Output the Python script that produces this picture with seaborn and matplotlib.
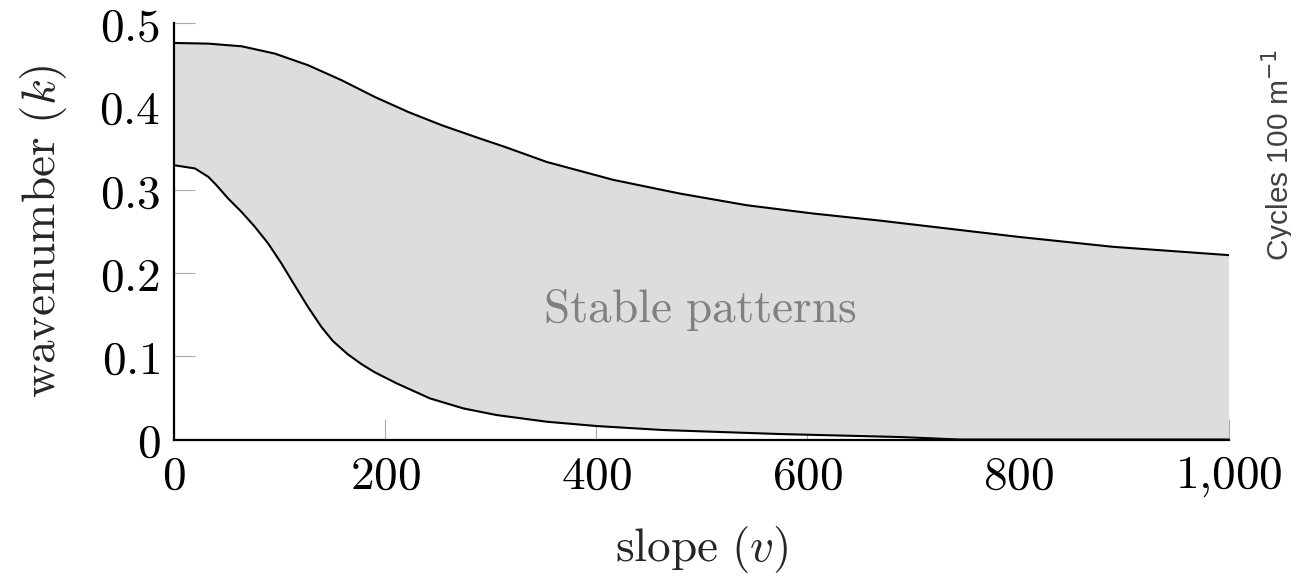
import numpy as np
import pandas as pd
import matplotlib
matplotlib.use("Agg")
import matplotlib.pyplot as plt
import seaborn as sns

# ---- data ----
upper_v = [0, 32.2, 63.9, 95.4, 127, 158.7, 190.2, 221.8, 253.5, 289.8, 313.5, 353,
           416, 479.3, 542.6, 605.7, 669, 800, 890, 1000]
upper_k = [0.4764, 0.4756, 0.4724, 0.4636, 0.4496, 0.4316, 0.4115, 0.3935, 0.3776,
           0.3616, 0.3515, 0.3335, 0.3120, 0.2955, 0.2815, 0.2715, 0.2630, 0.2435,
           0.2315, 0.2215]

lower_v = [0, 19.7, 32.3, 40, 51, 63.7, 76.4, 89, 101.6, 114, 126.7, 139.4, 150.3,
           164.5, 177, 189.7, 210.8, 242.4, 274, 305.6, 353, 400.4, 463.5, 574, 688,
           745, 1000]
lower_k = [0.3295, 0.3256, 0.3155, 0.3055, 0.2896, 0.2735, 0.2555, 0.2355, 0.2115,
           0.1855, 0.1594, 0.1354, 0.1184, 0.1024, 0.0910, 0.0810, 0.0675, 0.0494,
           0.0374, 0.0294, 0.0214, 0.0162, 0.0114, 0.0066, 0.0030, 0.0, 0.0]

x_ticks = [0, 200, 400, 600, 800, 1000]
x_tick_labels = [r"$0$", r"$200$", r"$400$", r"$600$", r"$800$", r"$1{,}000$"]
y_ticks = [0, 0.1, 0.2, 0.3, 0.4, 0.5]
y_tick_labels = [r"$0$", r"$0.1$", r"$0.2$", r"$0.3$", r"$0.4$", r"$0.5$"]

x_label = r"$\mathrm{slope}\ (v)$"
y_label = r"$\mathrm{wavenumber}\ (k)$"
region_label = r"$\mathrm{Stable\ patterns}$"
region_pos = (498, 0.155)
side_label = "Cycles 100 m$^{-1}$"

# ---- drawing ----
sns.set_style("white")
plt.rcParams["mathtext.fontset"] = "cm"
plt.rcParams["font.family"] = ["DejaVu Serif"]

fig = plt.figure(figsize=(12.91, 5.80), dpi=100)
ax = fig.add_axes([0.135, 0.2422, 0.817, 0.7176])

df_up = pd.DataFrame({"v": upper_v, "k": upper_k})
df_lo = pd.DataFrame({"v": lower_v, "k": lower_k})

poly_x = np.r_[np.array(upper_v), np.array(lower_v)[::-1]]
poly_y = np.r_[np.array(upper_k), np.array(lower_k)[::-1]]
ax.fill(poly_x, poly_y, color="#dddddd", lw=0, zorder=1)

sns.lineplot(data=df_up, x="v", y="k", ax=ax, color="black", lw=1.5,
             sort=False, estimator=None, zorder=3)
sns.lineplot(data=df_lo, x="v", y="k", ax=ax, color="black", lw=1.5,
             sort=False, estimator=None, zorder=3)

ax.text(region_pos[0], region_pos[1], region_label, ha="center", va="center",
        fontsize=34, color="#808080", zorder=4)

ax.set_xlim(0, 1000)
ax.set_ylim(0, 0.5)
ax.set_xticks(x_ticks)
ax.set_xticklabels(x_tick_labels)
ax.set_yticks(y_ticks)
ax.set_yticklabels(y_tick_labels)
ax.set_xlabel(x_label, fontsize=34, labelpad=18)
ax.set_ylabel(y_label, fontsize=34, labelpad=22)

for s in ["top", "right"]:
    ax.spines[s].set_visible(False)
for s in ["left", "bottom"]:
    ax.spines[s].set_color("black")
    ax.spines[s].set_linewidth(1.6)
    ax.spines[s].set_zorder(5)

ax.tick_params(axis="both", which="major", bottom=True, left=True, top=False, right=False,
               direction="in", length=15, width=0.8, color="#aaaaaa",
               labelsize=34, labelcolor="black", pad=10)
ax.set_facecolor("white")
ax.grid(False)

fig.text(0.9985, (580 - 261) / 580, side_label, rotation=90, rotation_mode="anchor",
         ha="left", va="baseline", fontsize=21.5, family="Liberation Sans",
         color="#404040", math_fontfamily="dejavusans")

fig.savefig("out.png", dpi=100, facecolor="white")
